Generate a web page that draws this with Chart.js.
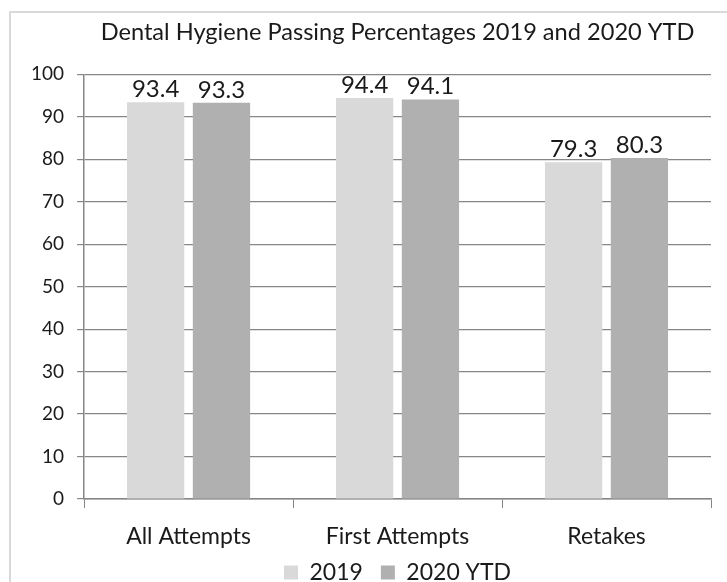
<!DOCTYPE html>
<html>
<head>
<meta charset="utf-8">
<script src="https://cdn.jsdelivr.net/npm/chart.js@4"></script>
<style>
  html, body { margin: 0; padding: 0; background: #ffffff; }
  #wrap { width: 727px; height: 582px; }
</style>
</head>
<body>
<div id="wrap"><canvas id="chart" width="727" height="582"></canvas></div>
<script>
const categories = ["All Attempts", "First Attempts", "Retakes"];
const values2019 = [93.4, 94.4, 79.3];
const values2020 = [93.3, 94.1, 80.3];
const yTicks = { min: 0, max: 100, step: 10 };

const fontName = "Lato, 'Open Sans', sans-serif";

// draws the value above each bar
const valueLabels = {
    id: "valueLabels",
    afterDatasetsDraw(chart) {
        const ctx = chart.ctx;
        ctx.save();
        ctx.font = "24px " + fontName;
        ctx.fillStyle = "#1a1a1a";
        ctx.textAlign = "center";
        ctx.textBaseline = "bottom";
        chart.data.datasets.forEach((ds, i) => {
            chart.getDatasetMeta(i).data.forEach((bar, j) => {
                ctx.fillText(ds.data[j].toFixed(1), bar.x, bar.y - 1);
            });
        });
        ctx.restore();
    }
};

// light frame round the chart, like the pasted office chart
const frame = {
    id: "frame",
    beforeDraw(chart) {
        const ctx = chart.ctx;
        ctx.save();
        ctx.fillStyle = "#ffffff";
        ctx.fillRect(0, 0, chart.width, chart.height);
        ctx.strokeStyle = "#d9d9d9";
        ctx.lineWidth = 2;
        ctx.strokeRect(10, 12, chart.width + 20, chart.height + 20);
        ctx.restore();
    }
};

// x axis box is kept short (see afterFit), so let its labels draw below it
const unclipX = {
    id: "unclipX",
    afterLayout(chart) {
        chart.scales.x.bottom = chart.height;
    }
};

new Chart(document.getElementById("chart"), {
    type: "bar",
    data: {
        labels: categories,
        datasets: [
            { label: "2019", data: values2019, backgroundColor: "#d9d9d9" },
            { label: "2020 YTD", data: values2020, backgroundColor: "#b0b0b0" }
        ]
    },
    options: {
        responsive: false,
        animation: false,
        layout: { padding: { left: 18, right: 16, top: 12, bottom: -12 } },
        categoryPercentage: 0.63,
        barPercentage: 0.87,
        plugins: {
            title: {
                display: true,
                fullSize: false,
                text: "Dental Hygiene Passing Percentages 2019 and 2020 YTD",
                color: "#1a1a1a",
                font: { family: fontName, size: 23.6, weight: "normal" },
                padding: { top: 6, bottom: 28 }
            },
            legend: {
                position: "bottom",
                fullSize: false,
                labels: {
                    color: "#1a1a1a",
                    font: { family: fontName, size: 23 },
                    boxWidth: 14,
                    boxHeight: 14,
                    padding: 18
                }
            },
            tooltip: { enabled: false }
        },
        scales: {
            x: {
                // keep the axis box short so the legend sits close under the labels
                afterFit(scale) { scale.height = 44; },
                grid: {
                    drawOnChartArea: false,
                    tickLength: 9,
                    color: "#868686"
                },
                border: { color: "#868686", width: 1.5 },
                ticks: {
                    color: "#1a1a1a",
                    font: { family: fontName, size: 23 },
                    padding: 15
                }
            },
            y: {
                min: yTicks.min,
                max: yTicks.max,
                ticks: {
                    stepSize: yTicks.step,
                    color: "#1a1a1a",
                    font: { family: fontName, size: 19 },
                    padding: 13
                },
                grid: { color: "#868686", tickLength: 7, lineWidth: 1.2 },
                border: { color: "#868686", width: 1.5 }
            }
        }
    },
    plugins: [frame, unclipX, valueLabels]
});
</script>
</body>
</html>
